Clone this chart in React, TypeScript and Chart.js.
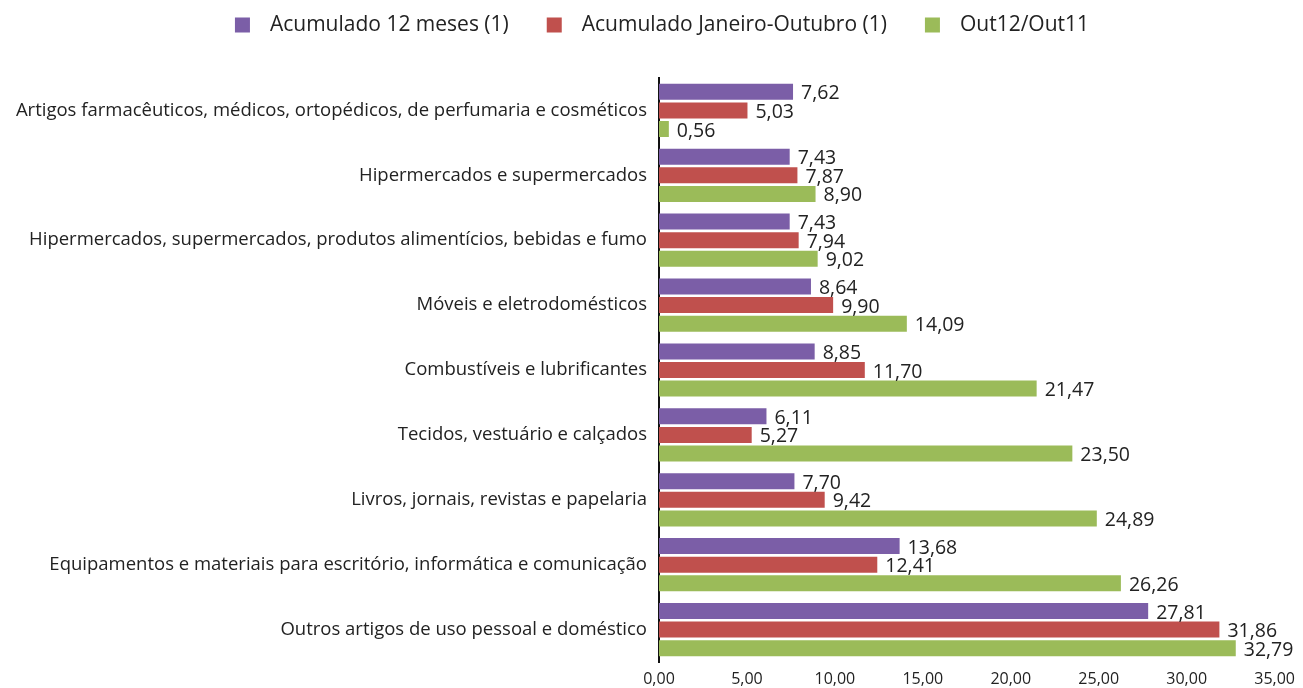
import React, { useEffect, useRef } from "react";
import { Chart, registerables } from "chart.js";

Chart.register(...registerables);

const categories = [
  "Artigos farmacêuticos, médicos, ortopédicos, de perfumaria e cosméticos",
  "Hipermercados e supermercados",
  "Hipermercados, supermercados, produtos alimentícios, bebidas e fumo",
  "Móveis e eletrodomésticos",
  "Combustíveis e lubrificantes",
  "Tecidos, vestuário e calçados",
  "Livros, jornais, revistas e papelaria",
  "Equipamentos e materiais para escritório, informática e comunicação",
  "Outros artigos de uso pessoal e doméstico",
];

const seriesNames = [
  "Acumulado 12 meses (1)",
  "Acumulado Janeiro-Outubro (1)",
  "Out12/Out11",
];

const acumulado12 = [7.62, 7.43, 7.43, 8.64, 8.85, 6.11, 7.7, 13.68, 27.81];
const acumuladoJanOut = [5.03, 7.87, 7.94, 9.9, 11.7, 5.27, 9.42, 12.41, 31.86];
const out12Out11 = [0.56, 8.9, 9.02, 14.09, 21.47, 23.5, 24.89, 26.26, 32.79];

const seriesColors = ["#7B5EA7", "#C0504D", "#9BBB59"];

const FONT = "'Open Sans', 'Noto Sans', sans-serif";
const fmt = (v: number) => v.toFixed(2).replace(".", ",");

const valueLabels = {
  id: "valueLabels",
  afterDatasetsDraw(chart: any) {
    const ctx = chart.ctx;
    ctx.save();
    ctx.font = `19.5px ${FONT}`;
    ctx.fillStyle = "#222";
    ctx.textBaseline = "middle";
    ctx.textAlign = "left";
    chart.data.datasets.forEach((ds: any, i: number) => {
      const meta = chart.getDatasetMeta(i);
      meta.data.forEach((el: any, j: number) => {
        ctx.fillText(fmt(ds.data[j]), el.x + 8, el.y + 2);
      });
    });
    ctx.restore();
  },
};

const customLegend = {
  id: "customLegend",
  afterDraw(chart: any) {
    const ctx = chart.ctx;
    ctx.save();
    ctx.font = `21px ${FONT}`;
    ctx.textBaseline = "middle";
    const box = 15;
    const gapBoxText = 20;
    const gapItems = 38;
    const widths = seriesNames.map((n) => ctx.measureText(n).width);
    const total =
      widths.reduce((a, b) => a + b, 0) +
      seriesNames.length * (box + gapBoxText) +
      (seriesNames.length - 1) * gapItems;
    let x = 662 - total / 2;
    const y = 25;
    seriesNames.forEach((n, i) => {
      ctx.fillStyle = seriesColors[i];
      ctx.fillRect(x, y - box / 2, box, box);
      x += box + gapBoxText;
      ctx.fillStyle = "#222";
      ctx.fillText(n, x, y);
      x += widths[i] + gapItems;
    });
    ctx.restore();
  },
};

export default function App() {
  const ref = useRef<HTMLCanvasElement>(null);
  useEffect(() => {
    document.body.style.margin = "0";
    const chart = new Chart(ref.current!, {
      type: "bar",
      data: {
        labels: categories,
        datasets: [
          { label: seriesNames[0], data: acumulado12, backgroundColor: seriesColors[0] },
          { label: seriesNames[1], data: acumuladoJanOut, backgroundColor: seriesColors[1] },
          { label: seriesNames[2], data: out12Out11, backgroundColor: seriesColors[2] },
        ],
      },
      options: {
        indexAxis: "y",
        animation: false,
        responsive: false,
        maintainAspectRatio: false,
        datasets: {
          bar: { categoryPercentage: 0.86, barPercentage: 0.86 },
        },
        layout: { padding: { top: 78, right: 25, bottom: 0, left: 0 } },
        plugins: {
          legend: { display: false },
          tooltip: { enabled: false },
        },
        scales: {
          x: {
            min: 0,
            max: 35,
            grid: { display: false, drawTicks: false },
            border: { display: false },
            ticks: {
              stepSize: 5,
              color: "#222",
              font: { family: FONT, size: 16 },
              padding: 8,
              callback: (v: any) => fmt(Number(v)),
            },
            afterFit: (scale: any) => {
              scale.height = 26;
            },
          },
          y: {
            grid: { display: false, drawTicks: false },
            border: { display: true, color: "#111", width: 2 },
            ticks: {
              color: "#222",
              font: { family: FONT, size: 18.5 },
              padding: 12,
              autoSkip: false,
            },
            afterFit: (scale: any) => {
              scale.width = 659;
            },
          },
        },
      },
      plugins: [valueLabels, customLegend],
    });
    return () => chart.destroy();
  }, []);
  return (
    <div style={{ width: 1303, height: 688 }}>
      <canvas ref={ref} width={1303} height={688} style={{ display: "block" }} />
    </div>
  );
}
